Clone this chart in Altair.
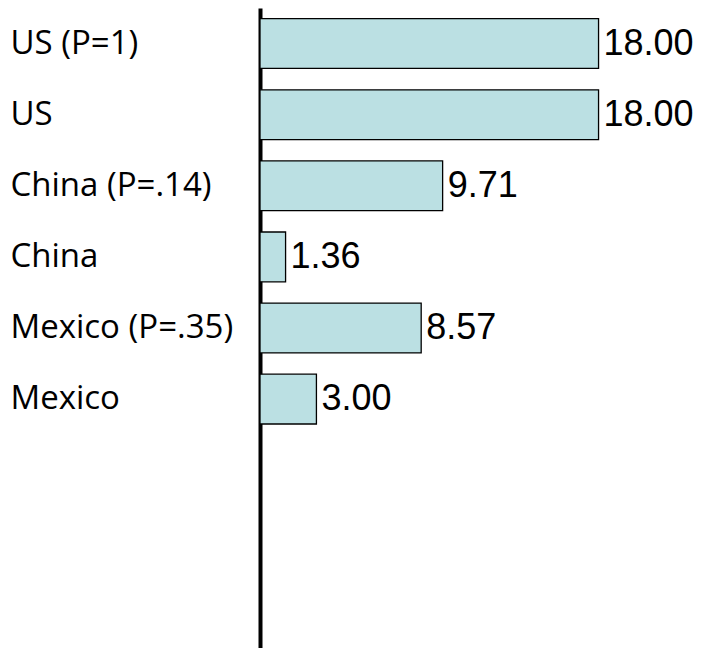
import altair as alt
import pandas as pd

categories = ["US (P=1)", "US", "China (P=.14)", "China", "Mexico (P=.35)", "Mexico"]
values = [18.00, 18.00, 9.71, 1.36, 8.57, 3.00]
blank_slots = ["_1", "_2", "_3"]

df = pd.DataFrame({"cat": categories, "val": values})
domain = categories + blank_slots

y = alt.Y("cat:N", sort=domain,
          scale=alt.Scale(domain=domain, paddingInner=0.3, paddingOuter=0.15),
          axis=alt.Axis(title=None, ticks=False, tickSize=0, labelAlign="left",
                        labelPadding=250, labelFont="Open Sans", labelFontSize=33,
                        labelColor="black", labelLimit=300,
                        labelExpr="indexof(datum.label, '_') == 0 ? '' : datum.label",
                        domainColor="black", domainWidth=4, grid=False))
x = alt.X("val:Q", scale=alt.Scale(domain=[0, 23.5], nice=False, zero=True), axis=None)

bars = alt.Chart(df).mark_bar(color="#BBE0E3", stroke="black", strokeWidth=1.3).encode(x=x, y=y)
text = alt.Chart(df).mark_text(align="left", baseline="middle", dx=5, fontSize=36,
                               font="Liberation Sans, Roboto", color="black").encode(
    x=x, y=y, text=alt.Text("val:Q", format=".2f"))

chart = (bars + text).properties(
    width=442, height=640,
    autosize=alt.AutoSizeParams(type="none"),
    padding={"left": 260, "top": 8, "right": 0, "bottom": 0},
    background="white",
).configure_view(stroke=None)

chart.save("out.html", embed_options={"renderer": "svg", "actions": False})
